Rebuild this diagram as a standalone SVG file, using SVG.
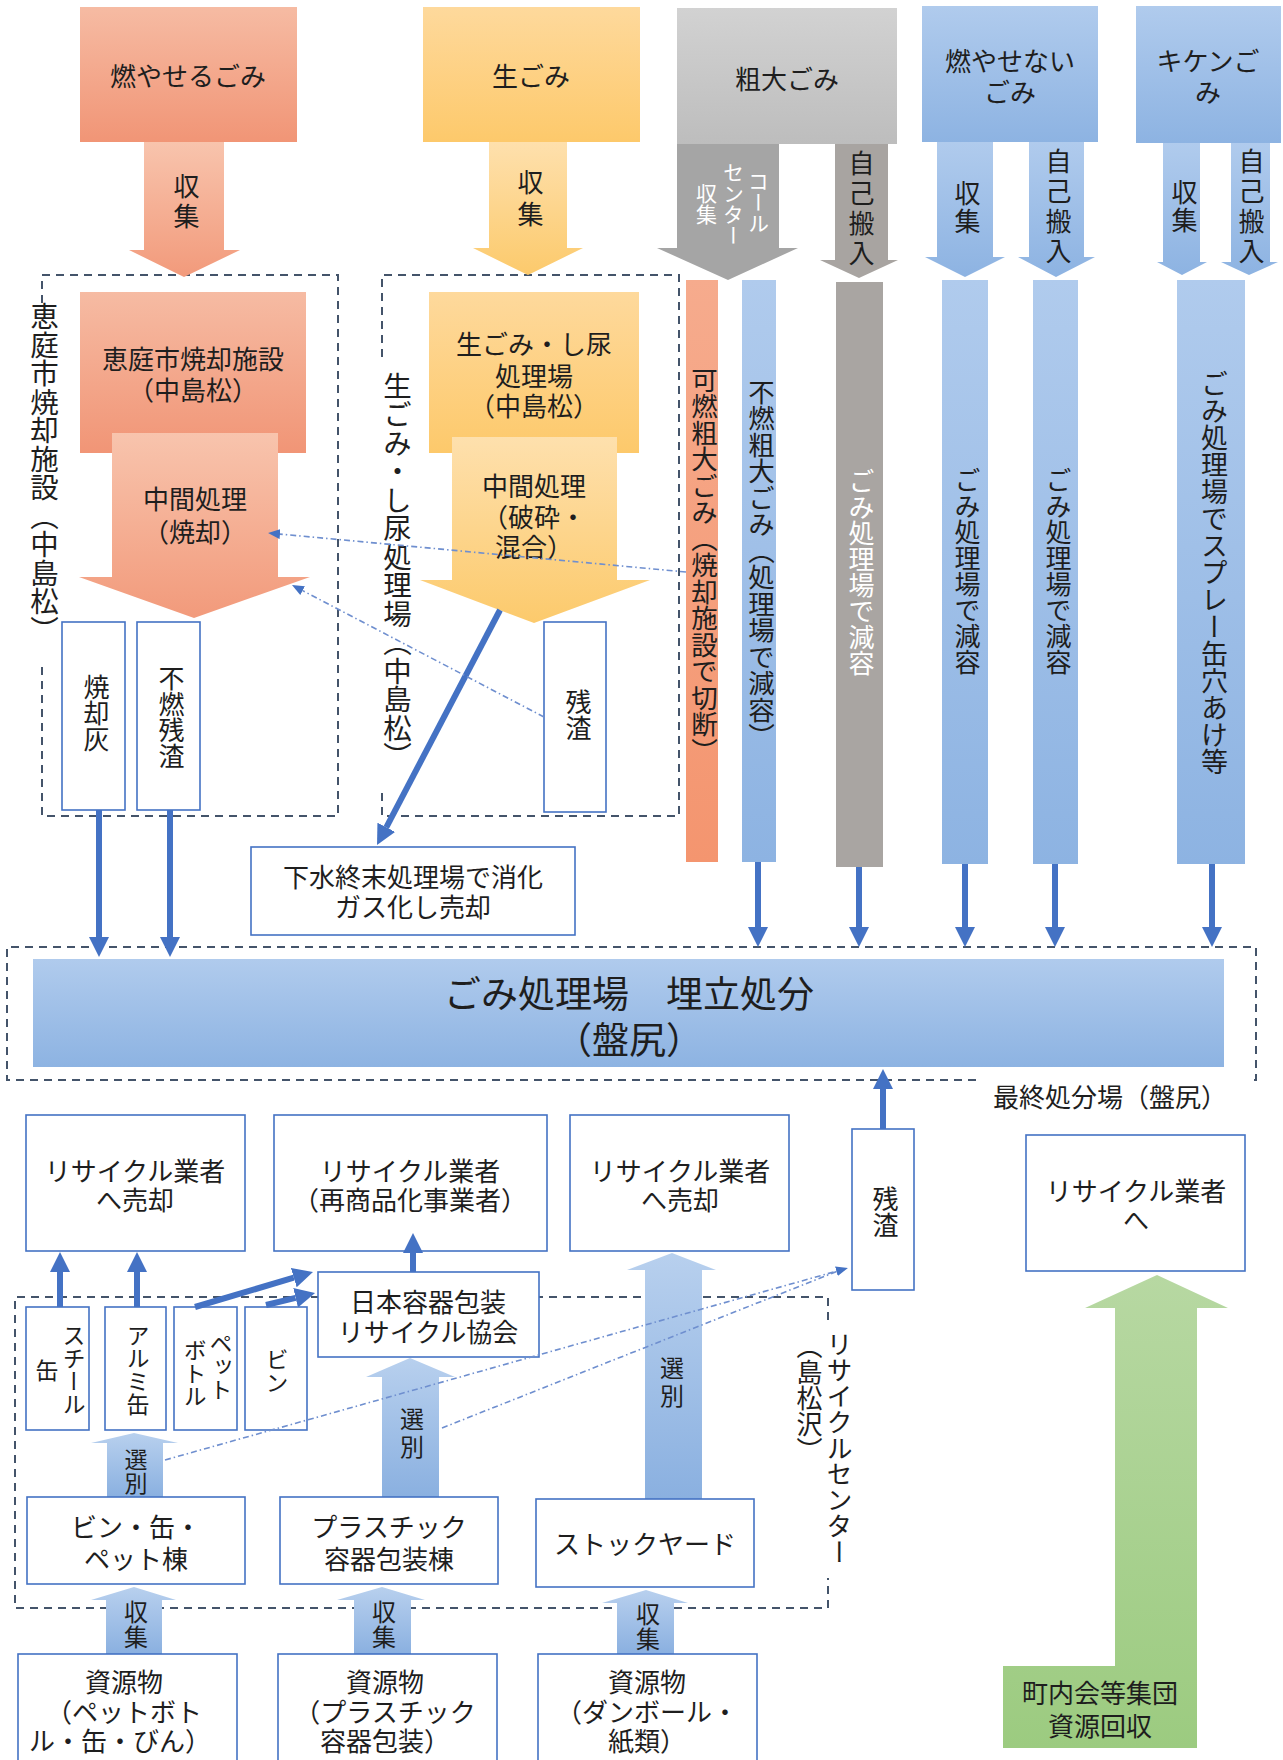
<svg xmlns="http://www.w3.org/2000/svg" width="1283" height="1760" viewBox="0 0 1283 1760">
<defs>
<style>
.t{font-family:"Liberation Sans","Noto Sans CJK JP","Noto Sans CJK SC",sans-serif;font-size:26px;fill:#1e1e1e;text-anchor:middle;dominant-baseline:central}
.v{writing-mode:vertical-rl}
.w{fill:#ffffff}
.box{fill:#ffffff;stroke:#4472c4;stroke-width:1.6}
.dash{fill:none;stroke:#44546a;stroke-width:2;stroke-dasharray:8 6}
.conn{fill:none;stroke:#4472c4;stroke-width:6;marker-end:url(#ah)}
.dd{fill:none;stroke:#6f8fcf;stroke-width:1.6;stroke-dasharray:6 3 1.5 3}
</style>
<linearGradient id="gSal" x1="0" y1="0" x2="0" y2="1"><stop offset="0" stop-color="#f6bba3"/><stop offset="1" stop-color="#f19576"/></linearGradient>
<linearGradient id="gSal2" x1="0" y1="0" x2="0" y2="1"><stop offset="0" stop-color="#f8c4ad"/><stop offset="1" stop-color="#f29a7b"/></linearGradient>
<linearGradient id="gYel" x1="0" y1="0" x2="0" y2="1"><stop offset="0" stop-color="#fed99c"/><stop offset="1" stop-color="#fdc96b"/></linearGradient>
<linearGradient id="gYel2" x1="0" y1="0" x2="0" y2="1"><stop offset="0" stop-color="#fee0ad"/><stop offset="1" stop-color="#fcca6c"/></linearGradient>
<linearGradient id="gGray" x1="0" y1="0" x2="0" y2="1"><stop offset="0" stop-color="#d2d2d2"/><stop offset="1" stop-color="#bdbdbd"/></linearGradient>
<linearGradient id="gBlue" x1="0" y1="0" x2="0" y2="1"><stop offset="0" stop-color="#b0cbed"/><stop offset="1" stop-color="#8db3e2"/></linearGradient>
<linearGradient id="gBlueUp" x1="0" y1="0" x2="0" y2="1"><stop offset="0" stop-color="#b8d0ee"/><stop offset="1" stop-color="#8ab0e0"/></linearGradient>
<linearGradient id="gGreen" x1="0" y1="0" x2="0" y2="1"><stop offset="0" stop-color="#b7d8a2"/><stop offset="1" stop-color="#9ccb80"/></linearGradient>
<linearGradient id="gOr" x1="0" y1="0" x2="0" y2="1"><stop offset="0" stop-color="#f6ab8d"/><stop offset="1" stop-color="#f4956f"/></linearGradient>
<marker id="ah" viewBox="0 0 20 20" refX="0" refY="10" markerWidth="20" markerHeight="20" markerUnits="userSpaceOnUse" orient="auto"><path d="M0,0 L20,10 L0,20 z" fill="#4472c4"/></marker>
<marker id="ahs" viewBox="0 0 12 10" refX="0" refY="5" markerWidth="12" markerHeight="10" markerUnits="userSpaceOnUse" orient="auto"><path d="M0,0 L12,5 L0,10 z" fill="#4472c4"/></marker>
</defs>
<rect width="1283" height="1760" fill="#ffffff"/>

<g id="areas">
<path class="dash" d="M42,303 V275 H338 V816 H42 V663"/>
<path class="dash" d="M382,357 V275 H679 V816 H382 V790"/>
<path class="dash" d="M976,1080 H7 V947 H1256 V1080 H1248"/>
<path class="dash" d="M828,1320 V1297 H15 V1608 H828 V1578"/>
<text class="t v" x="42" y="473" style="font-size:28.5px">恵庭市焼却施設（中島松）</text>
<text class="t v" x="395" y="571" style="font-size:28.5px">生ごみ・し尿処理場（中島松）</text>
<text class="t" x="1110" y="1098">最終処分場（盤尻）</text>
<text class="t v" style="text-anchor:start"><tspan x="837" y="1331">リサイクルセンター</tspan><tspan x="807" y="1333">（島松沢）</tspan></text>
</g>

<g id="src-moyaseru">
<rect x="80" y="7" width="217" height="135" fill="url(#gSal)"/>
<text class="t" x="188" y="77">燃やせるごみ</text>
<polygon points="144,142 224,142 224,250 240,250 184,277 129,250 144,250" fill="url(#gSal2)"/>
<text class="t v" x="184" y="203" style="letter-spacing:4px">収集</text>
</g>

<g id="src-nama">
<rect x="423" y="7" width="217" height="135" fill="url(#gYel)"/>
<text class="t" x="531" y="77">生ごみ</text>
<polygon points="489,142 567,142 567,248 583,248 528,275 473,248 489,248" fill="url(#gYel2)"/>
<text class="t v" x="528" y="201" style="letter-spacing:6px">収集</text>
</g>

<g id="src-sodai">
<rect x="677" y="8" width="220" height="136" fill="url(#gGray)"/>
<text class="t" x="787" y="80">粗大ごみ</text>
<polygon points="677,144 779,144 779,248 798,248 728,280 657,248 677,248" fill="#a5a5a5"/>
<text class="t v w" style="font-size:21px"><tspan x="757" y="202">コール</tspan><tspan x="732" y="204">センター</tspan><tspan x="705" y="204">収集</tspan></text>
<polygon points="835,144 888,144 888,260 898,260 859,278 820,260 835,260" fill="#a8a4a1"/>
<text class="t v" x="859" y="210" style="letter-spacing:4px">自己搬入</text>
</g>

<g id="src-moyasenai">
<rect x="922" y="6" width="176" height="136" fill="url(#gBlue)"/>
<text class="t"><tspan x="1010" y="62">燃やせない</tspan><tspan x="1010" y="93">ごみ</tspan></text>
<polygon points="937,142 993,142 993,257 1005,257 965,277 925,257 937,257" fill="url(#gBlue)"/>
<text class="t v" x="965" y="208" style="letter-spacing:2px">収集</text>
<polygon points="1029,142 1084,142 1084,257 1095,257 1056,277 1018,257 1029,257" fill="url(#gBlue)"/>
<text class="t v" x="1056" y="208" style="letter-spacing:4px">自己搬入</text>
</g>

<g id="src-kiken">
<rect x="1136" y="6" width="145" height="137" fill="url(#gBlue)"/>
<text class="t"><tspan x="1208" y="62">キケンご</tspan><tspan x="1208" y="93">み</tspan></text>
<polygon points="1163,143 1200,143 1200,262 1207,262 1182,275 1157,262 1163,262" fill="url(#gBlue)"/>
<text class="t v" x="1182" y="207" style="letter-spacing:2px">収集</text>
<polygon points="1231,143 1270,143 1270,262 1278,262 1249,275 1221,262 1231,262" fill="url(#gBlue)"/>
<text class="t v" x="1249" y="208" style="letter-spacing:4px">自己搬入</text>
</g>

<g id="incinerator">
<rect x="80" y="292" width="226" height="161" fill="url(#gSal)"/>
<text class="t"><tspan x="193" y="360">恵庭市焼却施設</tspan><tspan x="193" y="391">（中島松）</tspan></text>
<polygon points="112,433 278,433 278,577 310,577 194,618 79,577 112,577" fill="url(#gSal2)"/>
<text class="t"><tspan x="195" y="500">中間処理</tspan><tspan x="195" y="533">（焼却）</tspan></text>
</g>
<g id="ash">
<rect class="box" x="62" y="622" width="63" height="188"/>
<text class="t v" x="94" y="713">焼却灰</text>
</g>
<g id="residue1">
<rect class="box" x="137" y="622" width="63" height="188"/>
<text class="t v" x="169" y="717">不燃残渣</text>
</g>

<g id="namagomi-plant">
<rect x="429" y="292" width="210" height="161" fill="url(#gYel)"/>
<text class="t"><tspan x="534" y="345">生ごみ・し尿</tspan><tspan x="534" y="377">処理場</tspan><tspan x="534" y="407">（中島松）</tspan></text>
<polygon points="452,437 617,437 617,580 650,580 534,623 420,580 452,580" fill="url(#gYel2)"/>
<text class="t"><tspan x="534" y="487">中間処理</tspan><tspan x="534" y="518">（破砕・</tspan><tspan x="534" y="548">混合）</tspan></text>
</g>
<g id="residue2">
<rect class="box" x="544" y="622" width="62" height="190"/>
<text class="t v" x="576" y="715">残渣</text>
</g>
<g id="sewage">
<rect class="box" x="251" y="847" width="324" height="88"/>
<text class="t"><tspan x="413" y="878">下水終末処理場で消化</tspan><tspan x="413" y="908">ガス化し売却</tspan></text>
</g>

<g id="bar-kanen">
<rect x="686" y="280" width="32" height="582" fill="url(#gOr)"/>
<text class="t v" x="702" y="565" style="font-size:26.5px">可燃粗大ごみ（焼却施設で切断）</text>
</g>
<g id="bar-funen">
<rect x="742" y="280" width="34" height="582" fill="url(#gBlue)"/>
<text class="t v" x="759" y="564" style="font-size:26.5px">不燃粗大ごみ（処理場で減容）</text>
</g>
<g id="bar-jiko1">
<rect x="836" y="282" width="47" height="585" fill="#a9a5a2"/>
<text class="t v w" x="859" y="572">ごみ処理場で減容</text>
</g>
<g id="bar-moyasenai1">
<rect x="942" y="280" width="46" height="584" fill="url(#gBlue)"/>
<text class="t v" x="965" y="571">ごみ処理場で減容</text>
</g>
<g id="bar-moyasenai2">
<rect x="1033" y="280" width="45" height="584" fill="url(#gBlue)"/>
<text class="t v" x="1056" y="571">ごみ処理場で減容</text>
</g>
<g id="bar-kiken">
<rect x="1177" y="280" width="68" height="584" fill="url(#gBlue)"/>
<text class="t v" x="1212" y="573" style="font-size:27px">ごみ処理場でスプレー缶穴あけ等</text>
</g>

<g id="landfill">
<rect x="33" y="959" width="1191" height="108" fill="url(#gBlue)"/>
<text class="t" style="font-size:37px"><tspan x="629" y="995">ごみ処理場　埋立処分</tspan><tspan x="629" y="1041">（盤尻）</tspan></text>
</g>

<g id="sell1">
<rect class="box" x="26" y="1115" width="219" height="136"/>
<text class="t"><tspan x="135" y="1172">リサイクル業者</tspan><tspan x="135" y="1201">へ売却</tspan></text>
</g>
<g id="sell2">
<rect class="box" x="274" y="1115" width="273" height="136"/>
<text class="t"><tspan x="410" y="1172">リサイクル業者</tspan><tspan x="410" y="1201">（再商品化事業者）</tspan></text>
</g>
<g id="sell3">
<rect class="box" x="570" y="1115" width="219" height="136"/>
<text class="t"><tspan x="680" y="1172">リサイクル業者</tspan><tspan x="680" y="1201">へ売却</tspan></text>
</g>
<g id="residue3">
<rect class="box" x="852" y="1129" width="62" height="161"/>
<text class="t v" x="883" y="1212">残渣</text>
</g>
<g id="recycler">
<rect class="box" x="1026" y="1135" width="219" height="136"/>
<text class="t"><tspan x="1136" y="1192">リサイクル業者</tspan><tspan x="1136" y="1221">へ</tspan></text>
</g>
<g id="community">
<polygon points="1157,1275 1228,1308 1197,1308 1197,1748 1003,1748 1003,1666 1115,1666 1115,1308 1085,1308" fill="url(#gGreen)"/>
<text class="t"><tspan x="1100" y="1694">町内会等集団</tspan><tspan x="1100" y="1727">資源回収</tspan></text>
</g>

<g id="jcpra">
<rect class="box" x="318" y="1272" width="221" height="85"/>
<text class="t"><tspan x="428" y="1303">日本容器包装</tspan><tspan x="428" y="1333">リサイクル協会</tspan></text>
</g>
<g id="steel">
<rect class="box" x="26" y="1307" width="63" height="123"/>
<text class="t v" style="font-size:23px"><tspan x="72" y="1370">スチール</tspan><tspan x="45" y="1370">缶</tspan></text>
</g>
<g id="alumi">
<rect class="box" x="105" y="1307" width="61" height="123"/>
<text class="t v" x="136" y="1370" style="font-size:23px">アルミ缶</text>
</g>
<g id="pet">
<rect class="box" x="174" y="1307" width="63" height="123"/>
<text class="t v" style="font-size:23px"><tspan x="219" y="1366">ペット</tspan><tspan x="193" y="1373">ボトル</tspan></text>
</g>
<g id="bin">
<rect class="box" x="245" y="1307" width="62" height="123"/>
<text class="t v" x="275" y="1371" style="font-size:23px">ビン</text>
</g>

<g id="sort-arrows">
<polygon points="134,1433 178,1443 163,1443 163,1497 107,1497 107,1443 91,1443" fill="url(#gBlueUp)"/>
<text class="t v" x="134" y="1472" style="font-size:23px;letter-spacing:1px">選別</text>
<polygon points="410,1358 455,1377 439,1377 439,1497 382,1497 382,1377 366,1377" fill="url(#gBlueUp)"/>
<text class="t v" x="410" y="1435" style="font-size:24px;letter-spacing:4px">選別</text>
<polygon points="672,1253 716,1270 702,1270 702,1499 645,1499 645,1270 627,1270" fill="url(#gBlueUp)"/>
<text class="t v" x="670" y="1384" style="font-size:24px;letter-spacing:4px">選別</text>
</g>

<g id="bldg-bin">
<rect class="box" x="27" y="1497" width="218" height="87"/>
<text class="t"><tspan x="136" y="1528">ビン・缶・</tspan><tspan x="136" y="1560">ペット棟</tspan></text>
</g>
<g id="bldg-plastic">
<rect class="box" x="280" y="1497" width="218" height="87"/>
<text class="t"><tspan x="389" y="1528">プラスチック</tspan><tspan x="389" y="1560">容器包装棟</tspan></text>
</g>
<g id="stockyard">
<rect class="box" x="536" y="1499" width="218" height="88"/>
<text class="t" x="645" y="1545">ストックヤード</text>
</g>

<g id="collect-arrows">
<polygon points="134,1587 176,1600 162,1600 162,1654 106,1654 106,1600 91,1600" fill="url(#gBlueUp)"/>
<text class="t v" x="134" y="1625" style="font-size:24px;letter-spacing:1px">収集</text>
<polygon points="382,1587 425,1600 411,1600 411,1654 354,1654 354,1600 337,1600" fill="url(#gBlueUp)"/>
<text class="t v" x="382" y="1625" style="font-size:24px;letter-spacing:1px">収集</text>
<polygon points="646,1590 688,1603 674,1603 674,1654 617,1654 617,1603 602,1603" fill="url(#gBlueUp)"/>
<text class="t v" x="646" y="1627" style="font-size:24px;letter-spacing:1px">収集</text>
</g>

<g id="res1">
<rect class="box" x="18" y="1654" width="219" height="112"/>
<text class="t"><tspan x="124" y="1683">資源物</tspan><tspan x="124" y="1713">（ペットボト</tspan><tspan x="120" y="1742">ル・缶・びん）</tspan></text>
</g>
<g id="res2">
<rect class="box" x="278" y="1654" width="219" height="112"/>
<text class="t"><tspan x="385" y="1683">資源物</tspan><tspan x="385" y="1713">（プラスチック</tspan><tspan x="385" y="1742">容器包装）</tspan></text>
</g>
<g id="res3">
<rect class="box" x="538" y="1654" width="219" height="112"/>
<text class="t"><tspan x="647" y="1683">資源物</tspan><tspan x="647" y="1713">（ダンボール・</tspan><tspan x="647" y="1742">紙類）</tspan></text>
</g>

<g id="connectors">
<path class="conn" d="M99,810 V937"/>
<path class="conn" d="M170,810 V937"/>
<path class="conn" d="M758,862 V927"/>
<path class="conn" d="M859,867 V927"/>
<path class="conn" d="M965,864 V927"/>
<path class="conn" d="M1055,864 V927"/>
<path class="conn" d="M1212,864 V927"/>
<path class="conn" d="M500,610 L386.3,827.3"/>
<path class="conn" d="M883,1129 V1089"/>
<path class="conn" d="M60,1307 V1272"/>
<path class="conn" d="M137,1307 V1272"/>
<path class="conn" d="M413,1272 V1253"/>
<path class="conn" d="M195,1307 L293.8,1277.7"/>
<path class="conn" d="M266,1305 L295.6,1297.8"/>
<path class="dd" d="M686,572 L280,534.1" marker-end="url(#ahs)"/>
<path class="dd" d="M544,717 L302.6,590.6" marker-end="url(#ahs)"/>
<path class="dd" d="M165,1460 L836.4,1271.2" marker-end="url(#ahs)"/>
<path class="dd" d="M442,1428 L838,1271"/>
</g>
</svg>
